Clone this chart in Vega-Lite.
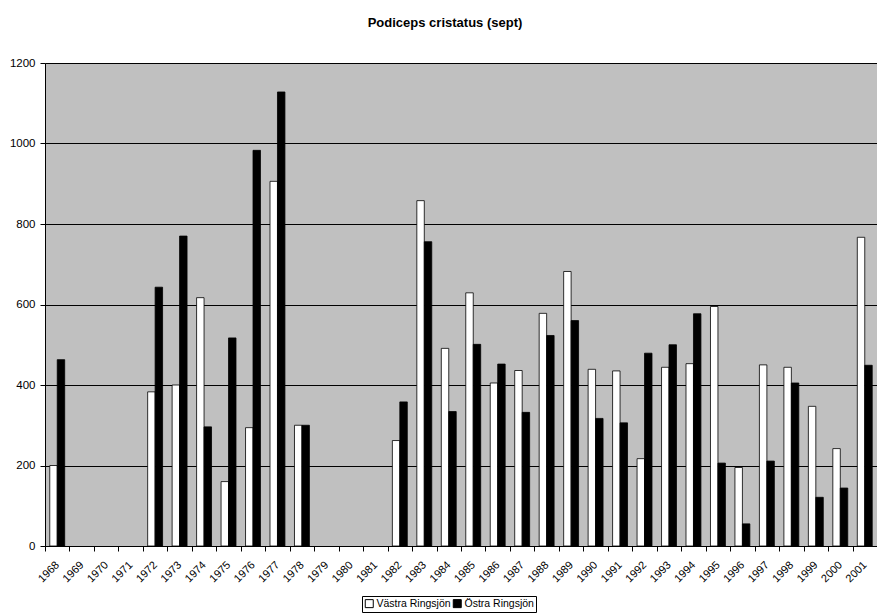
{
  "$schema": "https://vega.github.io/schema/vega-lite/v6.json",
  "width": 832,
  "height": 483,
  "autosize": {"type": "none"},
  "padding": {"left": 45, "top": 63, "right": 0, "bottom": 68},
  "background": "white",
  "title": {
    "text": "Podiceps cristatus (sept)",
    "font": "Liberation Sans",
    "fontSize": 13,
    "fontWeight": "bold",
    "color": "#000",
    "anchor": "middle",
    "frame": "group",
    "baseline": "alphabetic",
    "dx": -16,
    "offset": 17
  },
  "config": {
    "view": {"stroke": null, "fill": "#C0C0C0"},
    "font": "Liberation Sans"
  },
  "data": {
    "values": [
      {"year": "1968", "lake": "Västra Ringsjön", "value": 200},
      {"year": "1968", "lake": "Östra Ringsjön", "value": 463},
      {"year": "1972", "lake": "Västra Ringsjön", "value": 383},
      {"year": "1972", "lake": "Östra Ringsjön", "value": 643},
      {"year": "1973", "lake": "Västra Ringsjön", "value": 400},
      {"year": "1973", "lake": "Östra Ringsjön", "value": 770},
      {"year": "1974", "lake": "Västra Ringsjön", "value": 617},
      {"year": "1974", "lake": "Östra Ringsjön", "value": 296},
      {"year": "1975", "lake": "Västra Ringsjön", "value": 160},
      {"year": "1975", "lake": "Östra Ringsjön", "value": 517},
      {"year": "1976", "lake": "Västra Ringsjön", "value": 294},
      {"year": "1976", "lake": "Östra Ringsjön", "value": 983},
      {"year": "1977", "lake": "Västra Ringsjön", "value": 906},
      {"year": "1977", "lake": "Östra Ringsjön", "value": 1128},
      {"year": "1978", "lake": "Västra Ringsjön", "value": 300},
      {"year": "1978", "lake": "Östra Ringsjön", "value": 300},
      {"year": "1982", "lake": "Västra Ringsjön", "value": 262},
      {"year": "1982", "lake": "Östra Ringsjön", "value": 358},
      {"year": "1983", "lake": "Västra Ringsjön", "value": 858},
      {"year": "1983", "lake": "Östra Ringsjön", "value": 756},
      {"year": "1984", "lake": "Västra Ringsjön", "value": 491},
      {"year": "1984", "lake": "Östra Ringsjön", "value": 334},
      {"year": "1985", "lake": "Västra Ringsjön", "value": 629},
      {"year": "1985", "lake": "Östra Ringsjön", "value": 501},
      {"year": "1986", "lake": "Västra Ringsjön", "value": 405},
      {"year": "1986", "lake": "Östra Ringsjön", "value": 452},
      {"year": "1987", "lake": "Västra Ringsjön", "value": 436},
      {"year": "1987", "lake": "Östra Ringsjön", "value": 332},
      {"year": "1988", "lake": "Västra Ringsjön", "value": 578},
      {"year": "1988", "lake": "Östra Ringsjön", "value": 523},
      {"year": "1989", "lake": "Västra Ringsjön", "value": 682},
      {"year": "1989", "lake": "Östra Ringsjön", "value": 560},
      {"year": "1990", "lake": "Västra Ringsjön", "value": 439},
      {"year": "1990", "lake": "Östra Ringsjön", "value": 317},
      {"year": "1991", "lake": "Västra Ringsjön", "value": 435},
      {"year": "1991", "lake": "Östra Ringsjön", "value": 306},
      {"year": "1992", "lake": "Västra Ringsjön", "value": 217},
      {"year": "1992", "lake": "Östra Ringsjön", "value": 479},
      {"year": "1993", "lake": "Västra Ringsjön", "value": 444},
      {"year": "1993", "lake": "Östra Ringsjön", "value": 500},
      {"year": "1994", "lake": "Västra Ringsjön", "value": 453},
      {"year": "1994", "lake": "Östra Ringsjön", "value": 577},
      {"year": "1995", "lake": "Västra Ringsjön", "value": 595},
      {"year": "1995", "lake": "Östra Ringsjön", "value": 206},
      {"year": "1996", "lake": "Västra Ringsjön", "value": 195},
      {"year": "1996", "lake": "Östra Ringsjön", "value": 55},
      {"year": "1997", "lake": "Västra Ringsjön", "value": 450},
      {"year": "1997", "lake": "Östra Ringsjön", "value": 211},
      {"year": "1998", "lake": "Västra Ringsjön", "value": 444},
      {"year": "1998", "lake": "Östra Ringsjön", "value": 405},
      {"year": "1999", "lake": "Västra Ringsjön", "value": 347},
      {"year": "1999", "lake": "Östra Ringsjön", "value": 121},
      {"year": "2000", "lake": "Västra Ringsjön", "value": 242},
      {"year": "2000", "lake": "Östra Ringsjön", "value": 144},
      {"year": "2001", "lake": "Västra Ringsjön", "value": 767},
      {"year": "2001", "lake": "Östra Ringsjön", "value": 449}
    ]
  },
  "mark": {"type": "bar", "stroke": "#000", "strokeWidth": 0.8},
  "encoding": {
    "x": {
      "field": "year",
      "type": "nominal",
      "sort": null,
      "scale": {
        "domain": ["1968","1969","1970","1971","1972","1973","1974","1975","1976","1977","1978","1979","1980","1981","1982","1983","1984","1985","1986","1987","1988","1989","1990","1991","1992","1993","1994","1995","1996","1997","1998","1999","2000","2001"],
        "paddingInner": 0,
        "paddingOuter": 0
      },
      "axis": {
        "title": null,
        "labelAngle": -45,
        "labelAlign": "right",
        "labelBaseline": "middle",
        "labelFont": "Liberation Sans",
        "labelFontSize": 11,
        "labelColor": "#000",
        "labelPadding": 12,
        "tickBand": "extent",
        "tickColor": "#000",
        "tickSize": 5,
        "domainColor": "#000",
        "grid": false
      }
    },
    "xOffset": {
      "field": "lake",
      "type": "nominal",
      "scale": {
        "domain": ["Västra Ringsjön", "Östra Ringsjön"],
        "paddingInner": 0,
        "paddingOuter": 0.64
      }
    },
    "y": {
      "field": "value",
      "type": "quantitative",
      "scale": {"domain": [0, 1200], "nice": false},
      "axis": {
        "title": null,
        "values": [0, 200, 400, 600, 800, 1000, 1200],
        "format": "d",
        "grid": true,
        "gridColor": "#000",
        "gridWidth": 1,
        "gridOpacity": 1,
        "domainColor": "#000",
        "tickColor": "#000",
        "tickSize": 5,
        "labelPadding": 5,
        "labelFont": "Liberation Sans",
        "labelFontSize": 11.5,
        "labelColor": "#000",
        "labelFlush": false
      }
    },
    "color": {
      "field": "lake",
      "type": "nominal",
      "scale": {
        "domain": ["Västra Ringsjön", "Östra Ringsjön"],
        "range": ["#FFFFFF", "#000000"]
      },
      "legend": {
        "title": null,
        "orient": "none",
        "legendX": 317,
        "legendY": 533,
        "direction": "horizontal",
        "symbolType": "square",
        "symbolSize": 64,
        "symbolStrokeColor": "#000",
        "symbolStrokeWidth": 1,
        "labelFont": "Liberation Sans",
        "labelFontSize": 10.5,
        "labelColor": "#000",
        "labelOffset": 2,
        "columnPadding": 0,
        "strokeColor": "#000",
        "fillColor": "#FFFFFF",
        "padding": 2
      }
    }
  }
}
